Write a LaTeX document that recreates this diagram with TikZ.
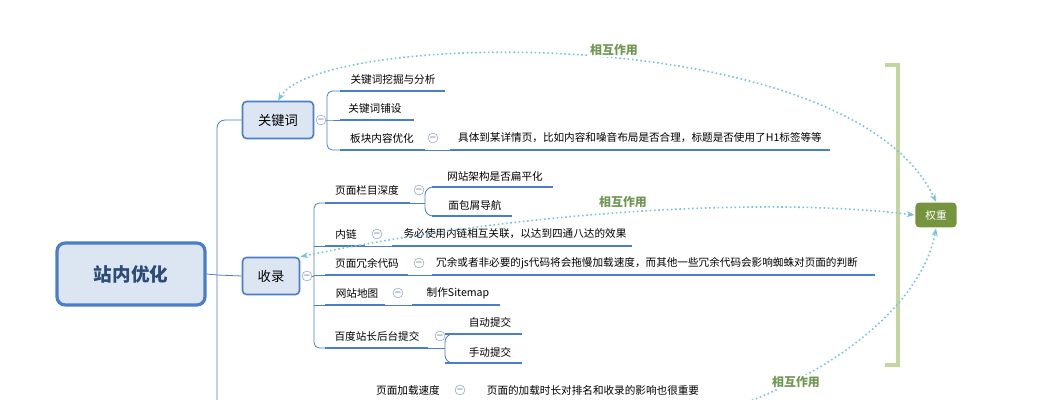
\documentclass[tikz,border=0pt]{standalone}
\usepackage{fontspec}
\setmainfont{Noto Sans CJK SC}
\usetikzlibrary{arrows.meta}
\definecolor{lineblue}{RGB}{74,126,200}
\definecolor{boxfill}{RGB}{220,230,242}
\definecolor{relgreen}{RGB}{112,152,84}
\definecolor{brackgreen}{RGB}{196,214,160}
\definecolor{weightgreen}{RGB}{118,148,62}
\definecolor{dotblue}{RGB}{120,196,222}
\tikzset{
  topic/.style={draw=lineblue, fill=boxfill, rounded corners=3pt, line width=1.2pt, inner sep=0pt, font=\fontsize{10}{10}\selectfont},
  leaf/.style={font=\fontsize{8}{8}\selectfont, inner sep=1pt},
  uline/.style={draw=lineblue, line width=1.6pt},
  branch/.style={draw=lineblue, line width=0.6pt},
  fold/.style={circle, draw=lineblue!70, fill=white, minimum size=7pt, inner sep=0pt, font=\fontsize{6}{6}\selectfont},
  relation/.style={draw=dotblue, line width=1.2pt, dotted, {Stealth[length=6pt]}-{Stealth[length=6pt]}},
  rellabel/.style={text=relgreen, font=\bfseries\fontsize{9}{9}\selectfont, fill=white, inner sep=1pt}
}
\begin{document}
\begin{tikzpicture}[x=0.0265cm, y=-0.0265cm]
    \useasboundingbox (0,0) rectangle (1053,400);

    % root and main topics
    \node[topic, line width=2.4pt, rounded corners=6pt, minimum width=3.92cm, minimum height=1.64cm, font=\bfseries\fontsize{14}{14}\selectfont, text=lineblue!60!black] (root) at (131,274) {站内优化};
    \node[topic, minimum width=1.88cm, minimum height=0.98cm] (kw) at (278,120) {关键词};
    \node[topic, minimum width=1.51cm, minimum height=0.98cm] (sl) at (271,276) {收录};
    \node[topic, draw=none, fill=weightgreen, text=white, minimum width=1.09cm, minimum height=0.66cm, font=\fontsize{8}{8}\selectfont] (qz) at (936,215) {权重};

    \coordinate (trunk) at (217,275);
    \draw[branch] (root.east) -- (trunk);
    \draw[branch, rounded corners=6pt] (217,400) -- (217,120) -- (kw.west);
    \draw[branch] (trunk) -- (sl.west);

    \node[fold] (kwf) at (321,120) {$-$};
    \node[fold] (slf) at (307,276) {$-$};

    % keyword children
    \draw[branch, rounded corners=4pt] (340,91) -- (327,91) -- (327,150) -- (340,150);
    \draw[branch] (kwf) -- (327,120) -- (340,120);
    \node[leaf] (k1) at (393,79) {关键词挖掘与分析};
    \draw[uline] (340,91) -- (445,91);
    \node[leaf] (k2) at (375,108) {关键词铺设};
    \draw[uline] (340,120) -- (414,120);
    \node[leaf] (k3) at (382,138) {板块内容优化};
    \draw[uline] (340,150) -- (425,150);
    \node[fold] (k3f) at (433,138) {$-$};
    \node[leaf] (k3a) at (640,138) {具体到某详情页，比如内容和噪音布局是否合理，标题是否使用了H1标签等等};
    \draw[branch] (425,150) -- (450,150);
    \draw[uline] (450,150) -- (830,150);

    % shoulu children
    \draw[branch] (slf) -- (314,276);
    \draw[branch, rounded corners=4pt] (325,203) -- (314,203) -- (314,348) -- (325,348);
    \foreach \yy in {246,275,305} \draw[branch] (314,\yy) -- (325,\yy);

    \node[leaf] (s1) at (367,190) {页面栏目深度};
    \draw[uline] (325,203) -- (410,203);
    \node[fold] (s1f) at (419,190) {$-$};
    \draw[branch] (410,203) -- (425,203);
    \draw[branch, rounded corners=6pt] (432,187) -- (425,187) -- (425,216) -- (432,216);
    \node[leaf] (s1a) at (495,176) {网站架构是否扁平化};
    \draw[uline] (432,187) -- (553,187);
    \node[leaf] (s1b) at (475,205) {面包屑导航};
    \draw[uline] (432,216) -- (512,216);

    \node[leaf] (s2) at (346,234) {内链};
    \draw[uline] (325,246) -- (365,246);
    \node[fold] (s2f) at (377,234) {$-$};
    \node[leaf] (s2a) at (515,234) {务必使用内链相互关联，以达到四通八达的效果};
    \draw[branch] (365,246) -- (392,246);
    \draw[uline] (392,246) -- (632,246);

    \node[leaf] (s3) at (367,263) {页面冗余代码};
    \draw[uline] (325,275) -- (408,275);
    \node[fold] (s3f) at (419,263) {$-$};
    \node[leaf] (s3a) at (647,263) {冗余或者非必要的js代码将会拖慢加载速度，而其他一些冗余代码会影响蜘蛛对页面的判断};
    \draw[branch] (408,275) -- (432,275);
    \draw[uline] (432,275) -- (875,275);

    \node[leaf] (s4) at (357,293) {网站地图};
    \draw[uline] (325,305) -- (385,305);
    \node[fold] (s4f) at (398,293) {$-$};
    \node[leaf] (s4a) at (458,293) {制作Sitemap};
    \draw[branch] (385,305) -- (412,305);
    \draw[uline] (412,305) -- (500,305);

    \node[leaf] (s5) at (377,336) {百度站长后台提交};
    \draw[uline] (325,348) -- (428,348);
    \node[fold] (s5f) at (440,336) {$-$};
    \draw[branch] (428,348) -- (445,348);
    \draw[branch, rounded corners=6pt] (452,334) -- (445,334) -- (445,363) -- (452,363);
    \node[leaf] (s5a) at (490,322) {自动提交};
    \draw[uline] (445,334) -- (522,334);
    \node[leaf] (s5b) at (490,352) {手动提交};
    \draw[uline] (445,363) -- (522,363);

    % page speed
    \node[leaf] (p1) at (408,390) {页面加载速度};
    \node[fold] (p1f) at (460,390) {$-$};
    \node[leaf] (p1a) at (593,390) {页面的加载时长对排名和收录的影响也很重要};

    % bracket
    \draw[draw=brackgreen, line width=3pt] (885,65) -- (898,65) -- (898,365) -- (885,365);

    % relations
    \draw[relation] (kw.north) .. controls (320,30) and (850,20) .. (qz.north);
    \node[rellabel] (r1) at (614,50) {相互作用};
    \draw[relation] (sl.north east) .. controls (500,215) and (750,195) .. (qz.west);
    \node[rellabel] (r2) at (623,202) {相互作用};
    \coordinate (r3end) at (740,405);
    \draw[relation, -{Stealth[length=6pt]}] (r3end) .. controls (860,360) and (925,290) .. (qz.south);
    \node[rellabel] (r3) at (796,382) {相互作用};
\end{tikzpicture}
\end{document}
